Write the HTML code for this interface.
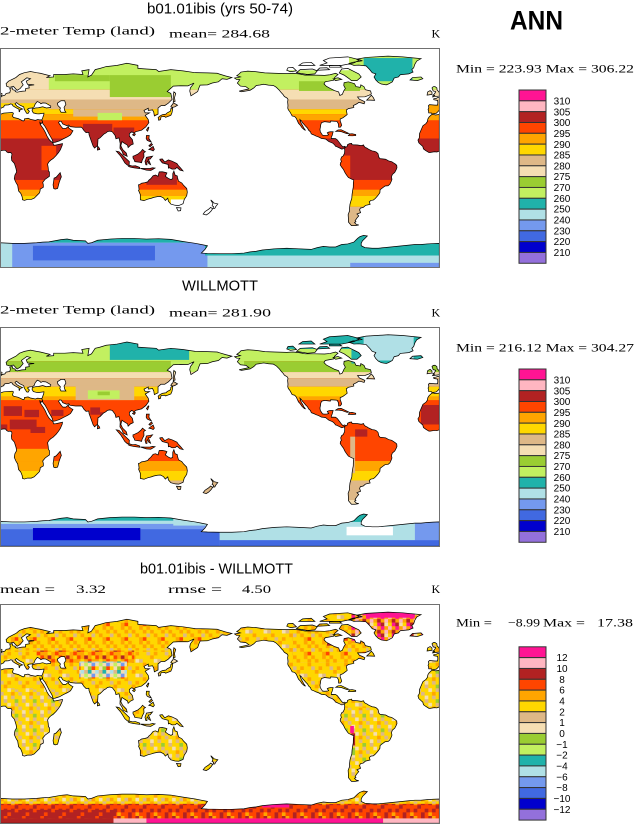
<!DOCTYPE html>
<html><head><meta charset="utf-8"><style>
html,body{margin:0;padding:0;background:#fff;}
svg{display:block}
.dp{fill:#ff1493}.lp{fill:#ffb6c1}.fb{fill:#b22222}.or{fill:#ff4500}.o{fill:#ffa500}.y{fill:#ffd700}
.tan{fill:#deb887}.w{fill:#f5deb3}.yg{fill:#9acd32}.lg{fill:#c2f060}.teal{fill:#20b2aa}.pb{fill:#b0e0e6}
.cb{fill:#7499ee}.rb{fill:#4169e1}.mb{fill:#0000cd}.mp{fill:#9370db}
.ti{font-family:"Liberation Sans",Arial,sans-serif;font-size:14.5px;fill:#000}
.sf{font-family:"Liberation Serif","Times New Roman",serif;font-size:12px;fill:#000}
.sf2{font-family:"Liberation Serif","Times New Roman",serif;font-size:12px;fill:#000}
.ann{font-family:"Liberation Sans",Arial,sans-serif;font-size:27px;font-weight:bold;fill:#000}
.cl{font-family:"Liberation Sans",Arial,sans-serif;font-size:10px;fill:#000;text-anchor:middle}
</style></head><body>
<svg width="634" height="825" viewBox="0 0 634 825" xmlns="http://www.w3.org/2000/svg" xmlns:xlink="http://www.w3.org/1999/xlink">
<defs>
<path id="landp" d="M0 -49.5 2 -51 4 -51.5 5 -53 8 -53.5 8.5 -55.5 8 -57 10 -57.7 10.5 -56 12.5 -55.5 12.5 -54.5 14 -54 18 -54.8 21 -55 21 -57 24 -57.5 23.5 -59.5 28 -60 22.5 -60.5 21.5 -63 25 -65 22 -65.8 17.5 -62.5 19 -60 16.5 -57 14 -55.5 11 -58.8 8 -58 5.5 -58.8 5 -61 7 -63 13 -66 16 -68.5 20 -70 25 -71 30 -70 33 -69.5 41 -67.5 38 -66 44 -66.5 44 -68.5 53 -68.5 60 -69 68 -68.5 67 -71.5 73 -72.5 72 -66.5 75 -68 78 -72.5 82 -73.5 87 -75 96 -76 104 -77.7 113 -76 113 -73.5 120 -73 128 -72.5 130 -71 140 -72.5 150 -71.5 160 -70 170 -69.8 178 -69.5 180 -68.8 185 -67.3 190 -66 186 -64.5 182 -65 179 -62.5 174 -61.5 170 -60 164 -59.8 163 -57.5 162 -54.5 156.5 -51 155.5 -55 156 -57.5 159 -61.5 154 -59.2 148 -59.3 142 -59 137 -54.5 140 -53 141 -48 138 -45 135 -43 132 -43 129.5 -41 129.5 -36 126.5 -34.5 126 -37.5 125 -39.5 121.5 -39 121.5 -40.8 118 -39 119 -37 122.5 -37 119 -35 121.5 -31.5 122 -29 119.5 -25.5 116 -22.8 111 -21.5 110 -20.3 108 -21.5 106 -20 106 -18 108.5 -15 109.2 -11.5 107 -10.5 105 -8.6 104.5 -10.5 101 -12.7 100 -13.5 99 -10 100.5 -7 103.5 -4 104.2 -1.4 101 -2.9 100 -5.5 98.3 -8 98.5 -12 97.5 -16.5 95 -15.8 94.3 -18.5 92 -21.5 90 -22 88 -21.6 86.8 -20.5 85 -19.5 82 -16.5 80.3 -15.5 80 -10.3 77.5 -8.1 76.3 -9.8 74.5 -14.8 73 -19 72.8 -21 70.5 -20.8 68.8 -22.5 67.3 -24.8 66.5 -25.3 62 -25.2 57.3 -25.7 56.4 -27 54.6 -26.6 51.4 -27.9 50.2 -30 48.8 -30.2 48 -29 48.8 -27.8 50 -26 50.8 -25 51.5 -24.2 54 -24.2 56 -26 56.4 -24.5 58.8 -22.8 59.8 -22.3 57.8 -19 55.5 -17.5 52 -15.8 48.7 -14 45 -12.8 43.5 -12.7 42.6 -15.5 40 -20 38.5 -23 36.8 -26 35.1 -28.1 34.8 -29.5 34.3 -31.3 35 -33 35.9 -35.6 36 -36.8 32 -36.2 30 -36.3 27.3 -37 26.3 -38.8 26.5 -40.3 29 -41 31.5 -41.2 35 -42 38 -41 41.5 -41.5 41.6 -42.6 38.5 -44.5 37.5 -45 35 -45.2 33.5 -44.5 32.5 -45.5 30.5 -46.3 29.6 -45.2 28.7 -44 28 -42 26.5 -41 24 -40.8 22.5 -40 24.1 -38.3 23 -36.5 21.7 -36.8 21 -38.2 20 -39.6 19.4 -41.9 16 -43.5 13.5 -45.5 12.3 -44.5 14 -42.5 16 -41.4 18.5 -40.2 16.5 -39.6 16 -38 15.6 -38.2 15.6 -40 14 -40.8 12 -41.9 10.5 -42.9 10 -44 8.8 -44.4 7 -43.6 4 -43.4 3.1 -42.4 3.2 -41.9 1 -41 0.3 -40 0 -39.5Z
M0 -35.8 3 -36.8 10 -37.3 11 -36.8 10.2 -34.2 11.2 -33.2 15 -32.3 19 -30.3 20.1 -31 20 -32.1 23 -32.6 25 -31.7 29 -30.9 31 -31.6 32.3 -31.3 34.2 -31.3 34.9 -29.5 33.5 -28 32.5 -29.8 33 -27.5 35.5 -24 37.2 -21 38.5 -18 40 -15.5 41.5 -13.8 43.3 -12.5 44 -10.5 46 -10.7 51.2 -11.8 51 -10.4 49.5 -6.8 48 -4.5 46 -2 43.5 0.5 41.5 1.8 40 3.3 39 5 39.5 8 39.7 10.5 40.5 11.5 40.5 15 37 17.5 35 20 35.5 22 35.5 24 33 25.5 32.8 27 32.4 28.6 31 30 28 33 25.6 34 22.5 34 20 34.8 18.4 34.2 18.2 32 17 29 15.2 27 14.5 22.5 13 20 11.7 17 12.2 14 13.6 11.5 13.2 9 12.3 6.1 11.8 4.5 9.6 2 9.3 -0.5 9.8 -3 9.4 -4 8.5 -4.5 6.7 -4.3 5.5 -5 4.5 -6.3 2.5 -6.3 1 -6 0 -5.6Z
M360 -5.6 358 -4.9 356 -5.1 352.5 -4.5 351.5 -4.5 349 -6 347 -7.5 346.5 -9.5 344.8 -11 343.2 -12.5 342.5 -14.7 343.6 -16.5 343.8 -20 345.5 -24 346.6 -26.5 349 -28.2 350.2 -29.9 350.6 -32 351.6 -33.6 353.5 -35.4 354.5 -35.9 357 -35.3 360 -35.8Z
M360 -39.5 359.5 -38.6 358.5 -37.6 357.5 -36.7 354 -36.1 353.6 -36.9 351.3 -37 351.2 -38.8 350.8 -39.8 351.4 -41.2 351.1 -43 352 -43.8 356.5 -43.4 358.6 -43.4 358.8 -45.5 358.6 -47.2 355.5 -47.8 355.4 -48.6 357.5 -48.9 358.5 -49.5 360 -49.5Z
M354.5 -50.1 360 -50.8 360 -53.5 359.5 -54.5 358.2 -55.8 358 -57.5 356.5 -58.6 355 -58.5 354 -57.5 355 -55 357 -54.5 356.5 -53.3 355.5 -52 354.8 -51.6 356.5 -51.4 355 -50.8Z
M0 -50.8 1.4 -51.2 1.7 -52.7 0 -53.5Z
M350 -51.6 354 -52.2 354 -54 352.5 -55.3 350.5 -54.2 350.2 -53Z
M336 -64 338 -66 345 -66.5 346.5 -65 342 -63.5Z
M43.5 22 44 25 45.2 25.5 47.2 25 48.5 20 50 16 50.3 15.5 49.3 12 48 13.5 46 15.8 44.3 16.5 44 19Z
M79.8 -6.5 80 -9.8 81.5 -8 81.8 -7Z
M130 -31 131.5 -31.4 132 -33.8 135 -34 135.7 -33.4 140 -35 140.9 -37 141.5 -40 141.5 -41.5 140 -40.5 139.8 -38.5 137 -37 136 -36 133 -35.5 131 -34.4 129.6 -33.2Z
M140 -42 141.5 -41.5 143.3 -42 145.5 -43.3 142 -45.4 141.5 -44 140.5 -43.2Z
M142 -46 143.5 -46.5 143 -49.5 144 -53 142.5 -54.3 142 -51.5Z
M120 -23 121 -22 122 -25 121.5 -25.3Z
M108.6 -19 110 -18.2 111 -19.6 110 -20.1Z
M120 -18.5 122.3 -18.5 122 -16 124 -13 121.5 -14 120.6 -14.5 119.8 -16Z
M122 -7 125.5 -9.5 126.5 -7 125.5 -5.8 124 -6.5Z
M122 -10 124 -12 125 -11 123 -9.3Z
M109 -1.5 110 -1.8 111.5 -2.5 113 -3.2 115.5 -5.3 116.8 -7 118.5 -5.5 119.2 -5.2 117.8 -4.2 118 -1 117.5 0 116.5 2 116 3.9 114.5 3.5 110.5 3 110 1.6 109 0Z
M95.3 -5.6 97.5 -5.2 100.3 -2.5 103.6 0.7 106 3 105.8 5.8 104.5 5.9 102.3 4 100.5 1 98.7 -1.7Z
M105.2 6.8 106 5.9 108.5 6.6 111 6.4 114.5 7.7 114.4 8.7 110 8.1 106.5 7.4Z
M119.5 5.5 120.4 5.6 120.5 3 121 2.5 122 4.7 123.4 5.4 122.5 3 121.5 1 123 0.9 125 -1.5 122.5 -1 120 -0.6 119.5 1 118.8 2.8Z
M115 8.5 119 8.6 123 8.5 125 8 127 8.3 125 9.5 123.5 10.3 120 10 116 8.8Z
M131 1 133 0.7 135 3.3 138 1.6 141 2.6 145 4.5 146 6 148 8.2 150 10.6 147.5 10 145 7.8 143.5 9 141 9.1 139 8 138 8.3 137.8 5.3 133 4 132 2.8 131 1.5Z
M113.5 22 114 26 113.5 26.5 115 30 115 34.3 118 35 121 33.8 124 33 126 32.3 129 31.7 131.5 31.5 134 32.8 135.5 34.8 137.5 33 138 35.5 140 37.8 143.5 38.8 146.5 39 150 37.5 151 34 153 31 153.5 28 153 25 150.5 22.5 149 20.5 146.3 19 145.4 16 145.3 14.8 143.5 14 142.5 10.7 141.6 12.8 141.5 17 140 17.7 138 16.8 135.5 15 136.8 12.3 135.8 11.9 133 11.3 130.5 11.4 130 13 129.5 15 127.5 14 125.5 14.5 123.5 17 122 18.2 121 19.6 118.5 20.3 116 20.7 114.6 21.7Z
M144.6 40.7 148.3 40.9 148 43.2 146 43.5Z
M172.7 34.4 174.5 36 175.5 37 178.5 37.7 177 39.5 176 41.3 174.6 41.3 175 39.8 173.8 39.2 174.5 37.5Z
M172.7 40.5 174.2 41.7 173 43.5 171 45.5 169 46.7 166.5 46 168 44 171 42Z
M192.2 -65.6 194 -64.4 196.5 -64.3 194.5 -61.5 197 -59 201.5 -58.5 204 -56.7 196 -54.9 198 -54.4 205 -55.6 208 -57.5 210 -59.5 213 -59.9 216 -60.5 220 -59.8 224 -59.5 226.5 -58 229 -55.5 230.5 -53.6 232 -52 233 -50.5 235.5 -49 236 -48 235.7 -46 236 -43 235.8 -41 236.3 -39.5 237.5 -38 238.5 -36.2 239.4 -34.5 241.5 -34 242.8 -32.5 243.7 -30.5 244.6 -28.5 246 -27 247.5 -24.8 249.5 -23 250.2 -22.9 249 -24.5 248 -26.5 247 -28 245.8 -31.5 247 -30.5 248 -28.8 249 -27.8 250.5 -26 252 -24.5 253 -22.7 254.5 -21.4 254.8 -20.3 255.5 -19.5 257 -19 259 -18 261 -17.3 263.5 -16 265.5 -15.8 267 -15.5 268.2 -14.5 269.5 -13.5 272.5 -12.3 274 -11 275 -9.6 276 -9.3 278.3 -8.2 280 -7.3 281 -7.5 282 -8.3 282.8 -8.6 283.3 -9 282.5 -9.6 281 -9.1 279.7 -10.5 276.5 -14.8 275 -15.9 272.5 -16 271.5 -15.9 271.5 -17 272.2 -18.5 273 -21.5 270.8 -21.5 269.5 -21.3 268.2 -20.7 269.3 -19 268 -18.6 265.8 -18.5 264.3 -18.7 262.5 -21.5 262.2 -23.5 262.7 -25.8 262.8 -27.2 263.5 -29 266 -29.8 269 -29.4 270.7 -29.2 271 -30.3 275.5 -30 276.3 -29.8 277.3 -28 277.5 -25.2 279 -25.3 280 -26.8 279.5 -28.5 278.8 -30.4 278.8 -32 281 -33 283.2 -34.6 284.5 -35.6 284.2 -37.2 283.8 -39.3 285.5 -40.5 289 -41.2 290 -41.6 289.5 -43 292.5 -44.5 294 -45.6 296.3 -45.1 298.4 -44.5 299 -46.1 297 -47.1 294.5 -48.2 293 -50.1 299 -50.2 302.5 -51.5 304.3 -52.6 303.7 -55 299.4 -56 298.3 -58.5 295.7 -60 295.3 -58 291.7 -58.6 290.5 -61 285.5 -62.5 282 -61.8 281.7 -59.5 283 -57 281.8 -55.2 280.5 -52.2 278.5 -51.3 277.5 -54.2 274.3 -55.2 270.8 -57 267.5 -58.8 265.5 -60.8 266.5 -62.5 273.5 -63.8 274.2 -66 277 -68.5 275 -69.5 270.5 -68.3 266 -67.8 258 -68 250 -68 245 -69 240 -69.5 235 -69.2 225 -69.5 217 -69.8 210 -70.8 203 -71.3 197.5 -70.5 196 -69 194 -67.5 197 -66.5 195 -66.1Z
M280 -73 285 -73.5 291 -70.5 294 -69 296 -66.5 292.5 -63.5 288 -63.5 286 -65.2 282 -68 278 -69.8Z
M243 -70 252 -68.5 258 -69 260 -71.5 256 -73 246 -72.5Z
M235 -72 238 -70.8 243 -71.5 240 -74.3 236 -74Z
M262 -76 280 -76 290 -78 295 -80.5 285 -83 270 -82 265 -80 268 -78Z
M260 -72 270 -72.5 268 -74 262 -73.8Z
M245 -76 258 -76 255 -78.5 248 -78Z
M275 -63.5 280 -64.5 277 -65.8 273 -65Z
M270 -74.5 280 -74.5 278 -76 270 -75.8Z
M316.5 -60 318.5 -60.8 321.5 -62.5 323 -65.6 326.5 -66.5 328 -68.3 335 -69 338.5 -70.5 337.5 -72.5 339 -74 340 -77 341.5 -79.5 345 -81.5 330 -83 318 -83.6 300 -82.5 292 -81 297 -79.8 289 -78.5 286 -77.5 290 -76 294 -76.2 300 -75.6 303 -72.5 305 -70 308 -69 306.5 -66.5 308 -64 310 -62 312.5 -60.7Z
M300.5 -47.5 303 -47.5 307 -47.3 306 -49.5 304.3 -51.5 302.5 -49.5Z
M275.1 -21.8 277 -23 279.5 -23.2 282.5 -21.8 285.8 -20.2 284.5 -19.9 282.5 -20.6 280 -21.5 277.5 -21.8Z
M286.5 -19.7 288.5 -19.9 291.5 -19.2 291.5 -18.4 288.8 -18.2 285.5 -18.3Z
M282.2 -8.3 282.8 -8.6 284.5 -9.5 284.8 -11 286.5 -11.8 288.2 -12 288.4 -11 289.7 -10.8 291 -10.8 293 -10.7 296 -10.2 298 -10.7 298.3 -9.7 299.5 -8.5 300.5 -8.2 301.5 -7.5 303 -6.7 305 -5.8 307 -5.5 308.5 -4.8 309.8 -3.5 310.2 -1.8 310.5 -0.5 311.5 0.5 313.5 0.7 316 1 318.5 2.4 321 3 322.5 4 324 5 325.1 6 325.3 8 324.7 9.5 323.5 11.8 321.5 13.5 320.8 15.5 321.2 17.5 320.7 19 319.5 21.5 318 22.8 315.5 23 313.5 24.5 311.5 26 311.3 28.5 309.5 31 307.5 33.2 306 34.5 304 34.8 302.6 35.9 303.3 38 299.5 38.9 297.7 40.5 295.3 41.1 294.7 42.6 295.5 44.8 292.5 46 294 47.5 292.7 49 291 51.5 291.7 52.3 290.5 53 292 54.5 294 55 291 55.5 288 55.5 285.5 52.5 285.5 49.5 285.3 46.5 286.4 43.5 286.4 41.5 286.8 38 287.5 35.5 288.3 33 288.5 30 289 26.5 289.5 24 289.6 20 289.9 18 288.5 17.5 285.5 16 284 14 282.7 12 281.5 9.5 280 7.5 278.8 5.7 279 4 279.8 3 279.5 2.2 279.2 1 280 -0.9 281.2 -1.6 282.3 -3.9 282.5 -6.2 282.3 -7.5Z
M0 69.5 10 70 20 70 30 69.5 35 69 40 68.8 50 67 55 66.5 60 67.5 70 68 72 70 75 69.5 80 67.5 90 66.5 100 66 110 66 120 66.5 130 66.2 140 66.8 150 68.5 160 70 165 71 170 72 168 75 165 78 170 78.3 180 78.5 190 78.5 200 78 205 77 210 76.5 215 75.5 225 74.5 235 74 245 74.5 255 75 260 73.5 265 72.5 270 73 275 73 280 71 285 70.5 290 69 293 66 295 64.5 298 63.5 301 64 299 66 297 68 296 70 296 72 299 73.5 305 74 310 74 315 73.5 320 73 325 72.5 330 72 335 71.5 340 71 345 71 350 70.5 355 70.2 360 70 360 90 0 90Z"/>
<path id="lakes" d="M47 -45 50 -47 53 -47 54 -44 52.5 -41.5 53 -39 54 -37.5 50 -37.5 49 -39.5 49.5 -41 47.5 -43Z"/>
<clipPath id="lc"><use xlink:href="#landp" href="#landp"/></clipPath>

<pattern id="py" width="15" height="12" patternUnits="userSpaceOnUse"><rect class="y" width="15" height="12"/><rect class="o" x="3" y="0" width="3" height="3"/><rect class="o" x="12" y="6" width="3" height="3"/><rect class="o" x="6" y="9" width="3" height="3"/><rect class="tan" x="9" y="3" width="3" height="3"/><rect class="tan" x="0" y="9" width="3" height="3"/><rect class="w" x="6" y="3" width="3" height="3"/></pattern>
<pattern id="po" width="15" height="12" patternUnits="userSpaceOnUse"><rect class="y" width="15" height="12"/><rect class="o" x="0" y="0" width="3" height="3"/><rect class="o" x="9" y="0" width="3" height="3"/><rect class="o" x="3" y="3" width="3" height="3"/><rect class="o" x="12" y="3" width="3" height="3"/><rect class="o" x="6" y="6" width="3" height="3"/><rect class="o" x="9" y="9" width="3" height="3"/><rect class="or" x="12" y="9" width="3" height="3"/><rect class="tan" x="0" y="6" width="3" height="3"/></pattern>
<pattern id="pr" width="15" height="12" patternUnits="userSpaceOnUse"><rect class="o" width="15" height="12"/><rect class="or" x="3" y="0" width="3" height="3"/><rect class="or" x="12" y="3" width="3" height="3"/><rect class="or" x="6" y="6" width="3" height="3"/><rect class="or" x="0" y="9" width="3" height="3"/><rect class="fb" x="9" y="0" width="3" height="3"/><rect class="fb" x="3" y="6" width="3" height="3"/><rect class="y" x="0" y="0" width="3" height="3"/><rect class="y" x="6" y="3" width="3" height="3"/><rect class="y" x="12" y="6" width="3" height="3"/><rect class="y" x="9" y="9" width="3" height="3"/></pattern>
<pattern id="pt" width="15" height="12" patternUnits="userSpaceOnUse"><rect class="y" width="15" height="12"/><rect class="tan" x="3" y="0" width="3" height="3"/><rect class="tan" x="12" y="3" width="3" height="3"/><rect class="tan" x="0" y="6" width="3" height="3"/><rect class="tan" x="9" y="9" width="3" height="3"/><rect class="w" x="6" y="3" width="3" height="3"/><rect class="w" x="3" y="9" width="3" height="3"/><rect class="o" x="9" y="6" width="3" height="3"/><rect class="yg" x="12" y="0" width="3" height="3"/></pattern>
<pattern id="pc" width="12" height="9" patternUnits="userSpaceOnUse"><rect class="w" width="12" height="9"/><rect class="teal" x="0" y="0" width="3" height="3"/><rect class="pb" x="6" y="0" width="3" height="3"/><rect class="cb" x="3" y="3" width="3" height="3"/><rect class="lg" x="9" y="3" width="3" height="3"/><rect class="yg" x="0" y="6" width="3" height="3"/><rect class="y" x="6" y="6" width="3" height="3"/><rect class="tan" x="9" y="0" width="3" height="3"/><rect class="or" x="3" y="6" width="3" height="3"/></pattern>
<pattern id="pa1" width="15" height="12" patternUnits="userSpaceOnUse"><rect class="y" width="15" height="12"/><rect class="o" x="3" y="0" width="3" height="3"/><rect class="o" x="12" y="3" width="3" height="3"/><rect class="o" x="6" y="6" width="3" height="3"/><rect class="o" x="0" y="9" width="3" height="3"/><rect class="tan" x="9" y="0" width="3" height="3"/><rect class="tan" x="0" y="3" width="3" height="3"/><rect class="tan" x="12" y="9" width="3" height="3"/><rect class="w" x="6" y="9" width="3" height="3"/></pattern>
<pattern id="pa2" width="15" height="12" patternUnits="userSpaceOnUse"><rect class="or" width="15" height="12"/><rect class="fb" x="0" y="0" width="3" height="3"/><rect class="fb" x="6" y="0" width="3" height="3"/><rect class="fb" x="12" y="3" width="3" height="3"/><rect class="fb" x="3" y="6" width="3" height="3"/><rect class="fb" x="9" y="6" width="3" height="3"/><rect class="fb" x="0" y="9" width="3" height="3"/><rect class="o" x="9" y="0" width="3" height="3"/><rect class="o" x="6" y="9" width="3" height="3"/></pattern>
<pattern id="pa3" width="15" height="12" patternUnits="userSpaceOnUse"><rect class="fb" width="15" height="12"/><rect class="or" x="3" y="0" width="3" height="3"/><rect class="or" x="12" y="6" width="3" height="3"/><rect class="or" x="6" y="9" width="3" height="3"/></pattern>
<pattern id="pg" width="12" height="9" patternUnits="userSpaceOnUse"><rect class="o" width="12" height="9"/><rect class="dp" x="0" y="0" width="3" height="3"/><rect class="dp" x="9" y="6" width="3" height="3"/><rect class="lp" x="6" y="0" width="3" height="3"/><rect class="lp" x="3" y="3" width="3" height="3"/><rect class="fb" x="9" y="3" width="3" height="3"/><rect class="fb" x="0" y="6" width="3" height="3"/><rect class="y" x="6" y="6" width="3" height="3"/><rect class="w" x="3" y="6" width="3" height="3"/></pattern>

<g id="cbar" stroke="#333" stroke-width="1">
<rect class="dp" x="519" y="0" width="27" height="10.83"/>
<rect class="lp" x="519" y="10.83" width="27" height="10.83"/>
<rect class="fb" x="519" y="21.66" width="27" height="10.83"/>
<rect class="or" x="519" y="32.49" width="27" height="10.83"/>
<rect class="o" x="519" y="43.32" width="27" height="10.83"/>
<rect class="y" x="519" y="54.15" width="27" height="10.83"/>
<rect class="tan" x="519" y="64.98" width="27" height="10.83"/>
<rect class="w" x="519" y="75.81" width="27" height="10.83"/>
<rect class="yg" x="519" y="86.64" width="27" height="10.83"/>
<rect class="lg" x="519" y="97.47" width="27" height="10.83"/>
<rect class="teal" x="519" y="108.3" width="27" height="10.83"/>
<rect class="pb" x="519" y="119.13" width="27" height="10.83"/>
<rect class="cb" x="519" y="129.96" width="27" height="10.83"/>
<rect class="rb" x="519" y="140.79" width="27" height="10.83"/>
<rect class="mb" x="519" y="151.62" width="27" height="10.83"/>
<rect class="mp" x="519" y="162.45" width="27" height="10.83"/>
</g>
<g id="lab1" class="cl">
<text x="562" y="14.4">310</text><text x="562" y="25.3">305</text><text x="562" y="36.1">300</text><text x="562" y="46.9">295</text><text x="562" y="57.8">290</text><text x="562" y="68.6">285</text><text x="562" y="79.4">280</text><text x="562" y="90.2">275</text><text x="562" y="101.1">270</text><text x="562" y="111.9">260</text><text x="562" y="122.7">250</text><text x="562" y="133.6">240</text><text x="562" y="144.4">230</text><text x="562" y="155.2">220</text><text x="562" y="166.1">210</text>
</g>
</defs>

<!-- ===== Panel 1 ===== -->
<text class="ti" x="147" y="13.5" textLength="146" lengthAdjust="spacingAndGlyphs">b01.01ibis (yrs 50-74)</text>
<text class="sf" x="0" y="34.7" textLength="155" lengthAdjust="spacingAndGlyphs">2-meter Temp (land)</text>
<text class="sf" x="169" y="37.3" textLength="101" lengthAdjust="spacingAndGlyphs">mean= 284.68</text>
<text class="sf" x="431.5" y="37.5">K</text>
<text class="ann" x="510" y="29.3" textLength="53" lengthAdjust="spacingAndGlyphs">ANN</text>
<text class="sf2" x="456" y="72.7" textLength="178" lengthAdjust="spacingAndGlyphs">Min = 223.93 Max = 306.22</text>

<svg x="0" y="48.3" width="439.3" height="219.4" viewBox="0 -90 360 180" preserveAspectRatio="none">
<g clip-path="url(#lc)">
<rect class="or" x="0" y="-90" width="360" height="180"/>
<rect class="lg" x="0" y="-90" width="360" height="34"/>
<rect class="w" x="0" y="-56" width="360" height="8"/>
<rect class="tan" x="0" y="-48" width="360" height="8"/>
<rect class="y" x="0" y="-40" width="360" height="4"/>
<rect class="o" x="0" y="-36" width="360" height="5"/>
<rect class="fb" x="0" y="-16" width="360" height="34"/>
<rect class="o" x="0" y="26" width="360" height="5"/>
<rect class="y" x="0" y="31" width="360" height="9"/>
<rect class="tan" x="0" y="40" width="360" height="20"/>
<rect class="w" x="0" y="-72" width="40" height="16"/>
<rect class="y" x="0" y="-45" width="40" height="5"/>
<rect class="o" x="345" y="-44" width="15" height="8"/>
<rect class="yg" x="90" y="-68" width="50" height="18"/>
<rect class="yg" x="45" y="-68" width="45" height="5"/>
<rect class="tan" x="60" y="-40" width="65" height="6"/>
<rect class="lg" x="80" y="-37" width="20" height="6"/>
<rect class="fb" x="68" y="-28" width="24" height="12"/>
<rect class="fb" x="93" y="-25" width="17" height="9"/>
<rect class="or" x="34" y="-10" width="12" height="20"/>
<rect class="fb" x="120" y="18" width="25" height="4"/>
<rect class="or" x="279" y="-2" width="8" height="20"/>
<rect class="teal" x="298" y="-82" width="40" height="19"/>
<rect class="yg" x="245" y="-63" width="50" height="8"/>
<rect fill="#fff" x="228" y="-84" width="58" height="12"/>
<rect fill="#fff" x="140" y="34" width="40" height="14"/>
<rect class="pb" x="0" y="60" width="360" height="30"/>
<rect class="teal" x="0" y="60" width="170" height="9.5"/>
<rect class="cb" x="10" y="69.5" width="160" height="20.5"/>
<rect class="rb" x="27" y="72" width="100" height="12"/>
<rect class="teal" x="168" y="60" width="192" height="20"/>
<rect class="cb" x="287" y="86" width="73" height="4"/>
</g>
<use xlink:href="#lakes" href="#lakes" fill="#fff" stroke="#000" stroke-width="0.6"/>
<use xlink:href="#landp" href="#landp" fill="none" stroke="#000" stroke-width="0.6"/>
</svg>
<rect x="0.5" y="48.5" width="439" height="219" fill="none" stroke="#707070"/>
<use xlink:href="#cbar" href="#cbar" y="90"/>
<use xlink:href="#lab1" href="#lab1" y="90"/>

<!-- ===== Panel 2 ===== -->
<text class="ti" x="182" y="290.5" textLength="76" lengthAdjust="spacingAndGlyphs">WILLMOTT</text>
<text class="sf" x="0" y="313.5" textLength="155" lengthAdjust="spacingAndGlyphs">2-meter Temp (land)</text>
<text class="sf" x="169" y="316.3" textLength="102" lengthAdjust="spacingAndGlyphs">mean= 281.90</text>
<text class="sf" x="431.5" y="316.5">K</text>
<text class="sf2" x="456" y="351.7" textLength="178" lengthAdjust="spacingAndGlyphs">Min = 216.12 Max = 304.27</text>

<svg x="0" y="327" width="439.3" height="219.3" viewBox="0 -90 360 180" preserveAspectRatio="none">
<g clip-path="url(#lc)">
<rect class="or" x="0" y="-90" width="360" height="180"/>
<rect class="lg" x="0" y="-90" width="360" height="28"/>
<rect class="yg" x="0" y="-62" width="360" height="9"/>
<rect class="lg" x="140" y="-62" width="60" height="9"/>
<rect class="w" x="0" y="-53" width="360" height="5"/>
<rect class="tan" x="0" y="-48" width="360" height="7"/>
<rect class="y" x="0" y="-41" width="360" height="8"/>
<rect class="o" x="0" y="-33" width="360" height="3"/>
<rect class="o" x="0" y="20" width="360" height="8"/>
<rect class="y" x="0" y="28" width="360" height="8"/>
<rect class="tan" x="0" y="36" width="360" height="16"/>
<rect class="w" x="0" y="52" width="360" height="8"/>
<rect class="teal" x="90" y="-79" width="65" height="16"/>
<rect class="tan" x="62" y="-42" width="48" height="12"/>
<rect class="lg" x="72" y="-38" width="26" height="7"/>
<rect class="yg" x="80" y="-37" width="10" height="3"/>
<rect class="fb" x="3" y="-25" width="15" height="8"/>
<rect class="fb" x="20" y="-22" width="12" height="6"/>
<rect class="fb" x="8" y="-14" width="22" height="8"/>
<rect class="fb" x="25" y="-8" width="12" height="5"/>
<rect class="fb" x="0" y="-10" width="6" height="6"/>
<rect class="fb" x="74" y="-24" width="8" height="6"/>
<rect class="fb" x="82" y="-20" width="5" height="5"/>
<rect class="fb" x="42" y="-22" width="10" height="5"/>
<rect class="o" x="10" y="10" width="33" height="10"/>
<rect class="fb" x="291" y="-6" width="10" height="6"/>
<rect class="tan" x="287" y="0" width="4" height="30"/>
<rect class="fb" x="345" y="-26" width="15" height="16"/>
<rect class="teal" x="288" y="-84" width="58" height="24"/>
<rect class="pb" x="298" y="-84.5" width="41" height="22"/>
<rect class="teal" x="235" y="-84" width="53" height="12"/>
<rect class="cb" x="0" y="60" width="360" height="30"/>
<rect class="teal" x="0" y="60" width="180" height="9"/>
<rect class="pb" x="0" y="69" width="180" height="2.6"/>
<rect class="pb" x="142" y="60" width="38" height="13"/>
<rect class="rb" x="0" y="76" width="180" height="14"/>
<rect class="mb" x="27" y="75" width="88" height="10"/>
<rect class="pb" x="180" y="60" width="160" height="25"/>
<rect fill="#fff" x="284" y="74" width="38" height="7"/>
<rect class="teal" x="288" y="60" width="14" height="10"/>
<rect class="rb" x="180" y="85" width="180" height="5"/>
</g>
<use xlink:href="#lakes" href="#lakes" fill="#fff" stroke="#000" stroke-width="0.6"/>
<use xlink:href="#landp" href="#landp" fill="none" stroke="#000" stroke-width="0.6"/>
</svg>
<rect x="0.5" y="327.5" width="439" height="219" fill="none" stroke="#707070"/>
<use xlink:href="#cbar" href="#cbar" y="369"/>
<use xlink:href="#lab1" href="#lab1" y="369"/>

<!-- ===== Panel 3 ===== -->
<text class="ti" x="140" y="573.3" textLength="153" lengthAdjust="spacingAndGlyphs">b01.01ibis - WILLMOTT</text>
<text class="sf" x="0" y="593.2" textLength="55" lengthAdjust="spacingAndGlyphs">mean =</text>
<text class="sf" x="76" y="593.2" textLength="30" lengthAdjust="spacingAndGlyphs">3.32</text>
<text class="sf" x="168" y="593.2" textLength="54" lengthAdjust="spacingAndGlyphs">rmse =</text>
<text class="sf" x="242" y="593.2" textLength="29" lengthAdjust="spacingAndGlyphs">4.50</text>
<text class="sf" x="431.5" y="593.2">K</text>
<text class="sf2" x="456" y="626.5" textLength="36" lengthAdjust="spacingAndGlyphs">Min =</text>
<text class="sf2" x="508" y="626.5" textLength="32" lengthAdjust="spacingAndGlyphs">−8.99</text>
<text class="sf2" x="543" y="626.5" textLength="42" lengthAdjust="spacingAndGlyphs">Max =</text>
<text class="sf2" x="597" y="626.5" textLength="36" lengthAdjust="spacingAndGlyphs">17.38</text>

<svg x="0" y="604.3" width="439.3" height="219" viewBox="0 -90 360 180" preserveAspectRatio="none">
<g clip-path="url(#lc)">
<rect fill="url(#py)" x="0" y="-90" width="360" height="180"/>
<rect fill="url(#po)" x="0" y="-75" width="190" height="23"/>
<rect fill="url(#pr)" x="30" y="-52" width="80" height="10"/>
<rect fill="url(#po)" x="240" y="-72" width="62" height="30"/>
<rect class="fb" x="268" y="-62" width="14" height="6"/>
<rect fill="url(#pc)" x="65" y="-43" width="39" height="14"/>
<rect fill="url(#pt)" x="0" y="-20" width="55" height="56"/>
<rect fill="url(#pt)" x="110" y="10" width="45" height="30"/>
<rect fill="url(#pt)" x="280" y="-5" width="45" height="60"/>
<rect fill="url(#pt)" x="340" y="-36" width="20" height="32"/>
<rect class="dp" x="287" y="10" width="3" height="6"/>
<rect class="fb" x="288" y="16" width="3" height="10"/>
<rect class="yg" x="288" y="28" width="3" height="6"/>
<rect fill="url(#pg)" x="288" y="-84" width="58" height="26"/>
<rect class="dp" x="300" y="-84" width="40" height="5"/>
<rect fill="url(#pa1)" x="0" y="60" width="360" height="14"/>
<rect fill="url(#pa2)" x="0" y="74" width="360" height="12"/>
<rect fill="url(#pa3)" x="0" y="79" width="95" height="7"/>
<rect class="dp" x="215" y="74" width="22" height="3"/>
<rect class="fb" x="0" y="86" width="93" height="4"/>
<rect class="lp" x="93" y="86" width="27" height="4"/>
<rect class="dp" x="120" y="86" width="194" height="4"/>
<rect class="lp" x="314" y="86" width="46" height="4"/>
</g>
<use xlink:href="#lakes" href="#lakes" fill="#fff" stroke="#000" stroke-width="0.6"/>
<use xlink:href="#landp" href="#landp" fill="none" stroke="#000" stroke-width="0.6"/>
</svg>
<rect x="0.5" y="604.5" width="439" height="219" fill="none" stroke="#707070"/>
<use xlink:href="#cbar" href="#cbar" y="646.8"/>
<g class="cl">
<text x="562" y="661.2">12</text><text x="562" y="672.1">10</text><text x="562" y="682.9">8</text><text x="562" y="693.7">6</text><text x="562" y="704.6">4</text><text x="562" y="715.4">2</text><text x="562" y="726.2">1</text><text x="562" y="737.0">0</text><text x="562" y="747.9">−1</text><text x="562" y="758.7">−2</text><text x="562" y="769.5">−4</text><text x="562" y="780.4">−6</text><text x="562" y="791.2">−8</text><text x="562" y="802.0">−10</text><text x="562" y="812.9">−12</text>
</g>
</svg>
</body></html>
